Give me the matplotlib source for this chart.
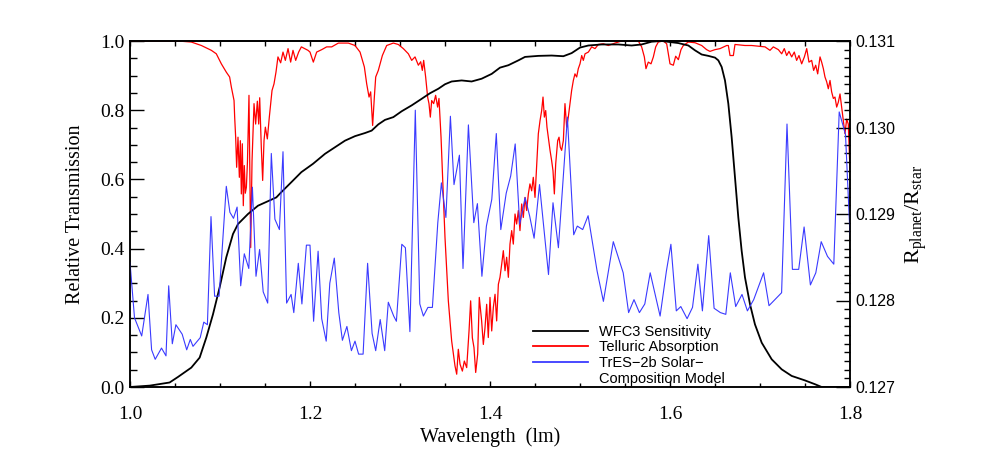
import matplotlib
matplotlib.use('Agg')
import matplotlib.pyplot as plt
from matplotlib.ticker import MultipleLocator, FormatStrFormatter
from matplotlib.lines import Line2D

# ---------------- data ----------------
wfc3_x = [1.000, 1.022, 1.044, 1.0533, 1.0681, 1.0774, 1.0848, 1.0922, 1.0996, 1.1070,
          1.1144, 1.1200, 1.1311, 1.1422, 1.1533, 1.1626, 1.1681, 1.1793, 1.1904, 1.2033,
          1.2167, 1.2278, 1.2389, 1.2500, 1.2611, 1.2685, 1.2759, 1.2833, 1.2926, 1.3019,
          1.3130, 1.3241, 1.3333, 1.3426, 1.3500, 1.3574, 1.3685, 1.3796, 1.3907, 1.4019,
          1.4111, 1.4204, 1.4315, 1.4389, 1.4537, 1.4685, 1.4815, 1.4907, 1.5000, 1.5093,
          1.5241, 1.5426, 1.5574, 1.5685, 1.5796, 1.5907, 1.6093, 1.6204, 1.6278, 1.6352,
          1.6426, 1.6500, 1.6537, 1.6574, 1.6611, 1.6648, 1.6685, 1.6722, 1.6759, 1.6796,
          1.6833, 1.6889, 1.6944, 1.7019, 1.7130, 1.7241, 1.7352, 1.7500, 1.7611, 1.7685,
          1.8000]
wfc3_y = [0.000, 0.004, 0.013, 0.029, 0.056, 0.085, 0.143, 0.210, 0.288, 0.375,
          0.442, 0.471, 0.500, 0.524, 0.537, 0.548, 0.563, 0.592, 0.621, 0.645,
          0.674, 0.693, 0.712, 0.725, 0.734, 0.741, 0.759, 0.772, 0.780, 0.797,
          0.814, 0.833, 0.849, 0.862, 0.875, 0.883, 0.886, 0.883, 0.891, 0.905,
          0.923, 0.930, 0.944, 0.954, 0.957, 0.958, 0.956, 0.965, 0.981, 0.987,
          0.990, 0.990, 0.987, 0.990, 0.998, 1.000, 0.994, 0.987, 0.973, 0.961,
          0.957, 0.952, 0.944, 0.925, 0.886, 0.819, 0.722, 0.606, 0.490, 0.394,
          0.317, 0.239, 0.181, 0.128, 0.080, 0.051, 0.032, 0.019, 0.008, 0.000,
          0.000]

telluric_x = [1.0000, 1.0533, 1.0681, 1.0793, 1.0904, 1.0959, 1.1015, 1.1070, 1.1107, 1.1126,
              1.1156, 1.1163, 1.1174, 1.1185, 1.1200, 1.1215, 1.1226, 1.1237, 1.1248, 1.1259,
              1.1270, 1.1281, 1.1293, 1.1305, 1.1322, 1.1341, 1.1356, 1.1378, 1.1396, 1.1415,
              1.1430, 1.1441, 1.1459, 1.1474, 1.1489, 1.1504, 1.1526, 1.1548, 1.1578, 1.1600,
              1.1622, 1.1644, 1.1674, 1.1700, 1.1726, 1.1756, 1.1785, 1.1811, 1.1841, 1.1874,
              1.1904, 1.1941, 1.1978, 1.2000, 1.2037, 1.2074, 1.2130, 1.2185, 1.2241, 1.2315,
              1.2426, 1.2500, 1.2556, 1.2604, 1.2630, 1.2656, 1.2674, 1.2696, 1.2715, 1.2730,
              1.2759, 1.2804, 1.2852, 1.2926, 1.2981, 1.3037, 1.3093, 1.3130, 1.3167, 1.3204,
              1.3230, 1.3248, 1.3263, 1.3285, 1.3307, 1.3322, 1.3337, 1.3352, 1.3374, 1.3396,
              1.3418, 1.3433, 1.3456, 1.3470, 1.3485, 1.3500, 1.3519, 1.3537, 1.3556, 1.3574,
              1.3593, 1.3611, 1.3630, 1.3648, 1.3667, 1.3693, 1.3715, 1.3741, 1.3767, 1.3785,
              1.3804, 1.3822, 1.3841, 1.3863, 1.3881, 1.3907, 1.3926, 1.3944, 1.3963, 1.3981,
              1.4000, 1.4019, 1.4037, 1.4056, 1.4074, 1.4093, 1.4111, 1.4130, 1.4148, 1.4167,
              1.4185, 1.4204, 1.4222, 1.4241, 1.4259, 1.4278, 1.4296, 1.4315, 1.4333, 1.4352,
              1.4370, 1.4389, 1.4407, 1.4426, 1.4444, 1.4463, 1.4481, 1.4500, 1.4519, 1.4537,
              1.4556, 1.4574, 1.4589, 1.4604, 1.4619, 1.4633, 1.4648, 1.4667, 1.4685, 1.4700,
              1.4715, 1.4730, 1.4752, 1.4767, 1.4781, 1.4796, 1.4815, 1.4833, 1.4852, 1.4870,
              1.4889, 1.4907, 1.4926, 1.4944, 1.4963, 1.4981, 1.5000, 1.5019, 1.5037, 1.5056,
              1.5093, 1.5130, 1.5167, 1.5204, 1.5259, 1.5315, 1.5389, 1.5463, 1.5648, 1.5685,
              1.5715, 1.5733, 1.5759, 1.5789, 1.5815, 1.5841, 1.5870, 1.5926, 1.5963, 1.6000,
              1.6037, 1.6063, 1.6093, 1.6122, 1.6148, 1.6204, 1.6278, 1.6352, 1.6407, 1.6444,
              1.6500, 1.6556, 1.6630, 1.6648, 1.6667, 1.6704, 1.6722, 1.6833, 1.6907, 1.6981,
              1.7056, 1.7111, 1.7148, 1.7204, 1.7241, 1.7270, 1.7296, 1.7322, 1.7352, 1.7381,
              1.7407, 1.7433, 1.7463, 1.7493, 1.7519, 1.7544, 1.7574, 1.7596, 1.7619, 1.7641,
              1.7667, 1.7685, 1.7704, 1.7722, 1.7741, 1.7759, 1.7778, 1.7796, 1.7815, 1.7833,
              1.7852, 1.7870, 1.7889, 1.7907, 1.7926, 1.7944, 1.7963, 1.7981, 1.8000]
telluric_y = [1.000, 1.000, 0.997, 0.987, 0.973, 0.963, 0.934, 0.910, 0.896, 0.867,
              0.828, 0.780, 0.722, 0.635, 0.722, 0.606, 0.712, 0.558, 0.703, 0.524,
              0.640, 0.560, 0.577, 0.650, 0.843, 0.403, 0.654, 0.819, 0.760, 0.826,
              0.760, 0.836, 0.693, 0.597, 0.712, 0.751, 0.717, 0.780, 0.857, 0.876,
              0.910, 0.954, 0.937, 0.968, 0.944, 0.978, 0.939, 0.973, 0.944, 0.968,
              0.983, 0.978, 0.973, 0.968, 0.939, 0.968, 0.975, 0.983, 0.983, 0.994,
              0.994, 0.987, 0.968, 0.925, 0.876, 0.838, 0.853, 0.756, 0.838, 0.896,
              0.915, 0.958, 0.987, 0.994, 0.990, 0.978, 0.963, 0.944, 0.954, 0.930,
              0.940, 0.915, 0.944, 0.896, 0.838, 0.819, 0.780, 0.828, 0.819, 0.843,
              0.809, 0.834, 0.722, 0.625, 0.529, 0.432, 0.336, 0.249, 0.191, 0.133,
              0.095, 0.061, 0.037, 0.109, 0.066, 0.046, 0.075, 0.056, 0.162, 0.249,
              0.142, 0.114, 0.042, 0.095, 0.259, 0.191, 0.123, 0.170, 0.239, 0.143,
              0.259, 0.162, 0.230, 0.268, 0.191, 0.297, 0.317, 0.355, 0.394, 0.336,
              0.375, 0.317, 0.413, 0.452, 0.413, 0.500, 0.471, 0.510, 0.452, 0.529,
              0.490, 0.548, 0.510, 0.558, 0.587, 0.567, 0.606, 0.548, 0.645, 0.732,
              0.770, 0.799, 0.838, 0.780, 0.799, 0.751, 0.722, 0.684, 0.654, 0.625,
              0.558, 0.645, 0.712, 0.722, 0.693, 0.684, 0.712, 0.819, 0.751, 0.780,
              0.819, 0.857, 0.886, 0.905, 0.896, 0.920, 0.934, 0.958, 0.944, 0.963,
              0.968, 0.983, 0.978, 0.990, 0.992, 0.987, 0.994, 1.000, 1.000, 0.983,
              0.954, 0.920, 0.939, 0.934, 0.954, 0.983, 0.997, 1.000, 0.992, 0.934,
              0.930, 0.956, 0.946, 0.975, 0.987, 0.997, 0.995, 0.987, 0.975, 0.970,
              0.975, 0.978, 0.987, 0.987, 0.958, 0.958, 0.990, 0.987, 0.987, 0.985,
              0.983, 0.973, 0.983, 0.975, 0.963, 0.978, 0.958, 0.970, 0.954, 0.968,
              0.944, 0.958, 0.934, 0.954, 0.978, 0.939, 0.944, 0.915, 0.930, 0.905,
              0.954, 0.939, 0.920, 0.896, 0.882, 0.862, 0.886, 0.853, 0.834, 0.838,
              0.809, 0.823, 0.847, 0.809, 0.770, 0.732, 0.774, 0.760, 0.625]

model_x = [1.000, 1.005, 1.013, 1.020, 1.024, 1.028, 1.035, 1.040, 1.043, 1.047,
           1.051, 1.058, 1.063, 1.067, 1.070, 1.078, 1.082, 1.086, 1.090, 1.094,
           1.099, 1.107, 1.111, 1.115, 1.119, 1.123, 1.127, 1.132, 1.136, 1.140,
           1.144, 1.148, 1.153, 1.157, 1.161, 1.166, 1.170, 1.174, 1.179, 1.182,
           1.187, 1.191, 1.196, 1.200, 1.204, 1.209, 1.213, 1.218, 1.222, 1.227,
           1.232, 1.236, 1.241, 1.246, 1.250, 1.254, 1.259, 1.264, 1.269, 1.273,
           1.278, 1.283, 1.287, 1.293, 1.296, 1.302, 1.306, 1.311, 1.317, 1.322,
           1.326, 1.331, 1.336, 1.342, 1.346, 1.351, 1.356, 1.360, 1.366, 1.370,
           1.376, 1.382, 1.386, 1.391, 1.396, 1.402, 1.407, 1.412, 1.418, 1.423,
           1.428, 1.433, 1.439, 1.444, 1.449, 1.455, 1.465, 1.470, 1.476, 1.486,
           1.493, 1.497, 1.503, 1.509, 1.519, 1.526, 1.537, 1.548, 1.554, 1.560,
           1.566, 1.572, 1.578, 1.589, 1.596, 1.601, 1.607, 1.612, 1.619, 1.625,
           1.631, 1.636, 1.643, 1.649, 1.656, 1.662, 1.667, 1.673, 1.680, 1.686,
           1.693, 1.704, 1.710, 1.724, 1.730, 1.736, 1.743, 1.749, 1.756, 1.762,
           1.768, 1.775, 1.782, 1.788, 1.795, 1.800]
model_r = [0.12844, 0.12780, 0.12759, 0.12807, 0.12743, 0.12732, 0.12745, 0.12736, 0.12817, 0.12750,
           0.12772, 0.12761, 0.12743, 0.12755, 0.12747, 0.12757, 0.12775, 0.12772, 0.12897, 0.12805,
           0.12805, 0.12932, 0.12902, 0.12895, 0.12908, 0.12817, 0.12854, 0.12837, 0.12931, 0.12828,
           0.12859, 0.12810, 0.12797, 0.12970, 0.12894, 0.12882, 0.12972, 0.12797, 0.12807, 0.12786,
           0.12843, 0.12796, 0.12864, 0.12864, 0.12776, 0.12857, 0.12779, 0.12753, 0.12820, 0.12849,
           0.12786, 0.12754, 0.12770, 0.12742, 0.12753, 0.12738, 0.12738, 0.12843, 0.12762, 0.12742,
           0.12778, 0.12742, 0.12798, 0.12782, 0.12776, 0.12865, 0.12861, 0.12764, 0.13020, 0.12796,
           0.12782, 0.12792, 0.12792, 0.12890, 0.12936, 0.12896, 0.13013, 0.12934, 0.12968, 0.12837,
           0.13003, 0.12890, 0.12912, 0.12828, 0.12886, 0.12917, 0.12993, 0.12882, 0.12924, 0.12944,
           0.12981, 0.12888, 0.12919, 0.12898, 0.12872, 0.12934, 0.12830, 0.12913, 0.12861, 0.13012,
           0.12876, 0.12886, 0.12882, 0.12898, 0.12834, 0.12799, 0.12868, 0.12832, 0.12786, 0.12801,
           0.12786, 0.12796, 0.12832, 0.12782, 0.12834, 0.12865, 0.12788, 0.12793, 0.12779, 0.12792,
           0.12842, 0.12788, 0.12875, 0.12791, 0.12786, 0.12784, 0.12832, 0.12793, 0.12807, 0.12788,
           0.12801, 0.12832, 0.12794, 0.12809, 0.13004, 0.12836, 0.12836, 0.12885, 0.12818, 0.12832,
           0.12868, 0.12851, 0.12842, 0.13018, 0.12992, 0.12876]

series_labels = ["WFC3 Sensitivity", "Telluric Absorption", "TrES\u22122b Solar\u2212", "Composition Model"]
x_label = "Wavelength  (lm)"
y_label = "Relative Transmission"
y2_label = r"$\mathrm{R_{planet}/R_{star}}$"

# ---------------- figure ----------------
plt.rcParams['font.family'] = ['Liberation Serif', 'DejaVu Serif']
plt.rcParams['mathtext.fontset'] = 'custom'
plt.rcParams['mathtext.rm'] = 'Liberation Serif'
plt.rcParams['mathtext.it'] = 'Liberation Serif:italic'

fig = plt.figure(figsize=(9.81, 4.71), dpi=100)
ax = fig.add_axes([130 / 981, 84 / 471, 720 / 981, 346 / 471])

ax.plot(telluric_x, telluric_y, color='#ff0000', lw=0.9, zorder=2)
ax.plot(wfc3_x, wfc3_y, color='black', lw=1.3, zorder=3)

ax.set_xlim(1.0, 1.8)
ax.set_ylim(0.0, 1.0)
ax.xaxis.set_major_locator(MultipleLocator(0.2))
ax.xaxis.set_minor_locator(MultipleLocator(0.05))
ax.yaxis.set_major_locator(MultipleLocator(0.2))
ax.yaxis.set_minor_locator(MultipleLocator(0.05))
ax.xaxis.set_major_formatter(FormatStrFormatter('%.1f'))
ax.yaxis.set_major_formatter(FormatStrFormatter('%.1f'))

ax.tick_params(axis='y', which='both', direction='in', left=True, right=True, labelsize=14, pad=4)
ax.tick_params(axis='y', which='major', length=10, width=1)
ax.tick_params(axis='y', which='minor', length=5, width=1)
ax.tick_params(axis='x', which='both', direction='in', top=False, labelsize=14, pad=14)
ax.tick_params(axis='x', which='major', length=4.5, width=1)
ax.tick_params(axis='x', which='minor', length=2.6, width=1)
for s in ax.spines.values():
    s.set_linewidth(1.1)

top = ax.secondary_xaxis('top')
top.xaxis.set_major_locator(MultipleLocator(0.05))
top.tick_params(direction='in', length=3.5, width=1, labeltop=False)
top.spines['top'].set_linewidth(1.1)

ax.set_xlabel(x_label, fontsize=14.5)
ax.xaxis.set_label_coords(0.5, -0.117)
ax.set_ylabel(y_label, fontsize=14.5)
ax.yaxis.set_label_coords(-0.062, 0.5)

ax2 = ax.twinx()
ax2.plot(model_x, model_r, color='#3a3aff', lw=0.8)
ax2.set_ylim(0.127, 0.131)
ax2.yaxis.set_major_locator(MultipleLocator(0.001))
ax2.yaxis.set_minor_locator(MultipleLocator(0.0001))
ax2.yaxis.set_major_formatter(FormatStrFormatter('%.3f'))
ax2.tick_params(axis='y', which='both', direction='in', labelsize=11.5, pad=4,
                labelfontfamily='Liberation Sans')
ax2.tick_params(axis='y', which='major', length=10, width=1)
ax2.tick_params(axis='y', which='minor', length=4.5, width=1)
for s in ax2.spines.values():
    s.set_linewidth(1.1)
ax2.set_ylabel(y2_label, fontsize=16)
ax2.yaxis.set_label_coords(1.074, 0.5)

handles = [Line2D([], [], color='black', lw=1.3),
           Line2D([], [], color='#ff0000', lw=1.3),
           Line2D([], [], color='#3a3aff', lw=1.3),
           Line2D([], [], color='none', lw=0)]
ax2.legend(handles, series_labels, loc='upper left', bbox_to_anchor=(0.5597, 0.180),
           frameon=False, prop={'family': 'Liberation Sans', 'size': 10.5},
           handlelength=3.75, handletextpad=0.75, labelspacing=0.12,
           borderpad=0, borderaxespad=0)

fig.savefig('out.png', dpi=100)
